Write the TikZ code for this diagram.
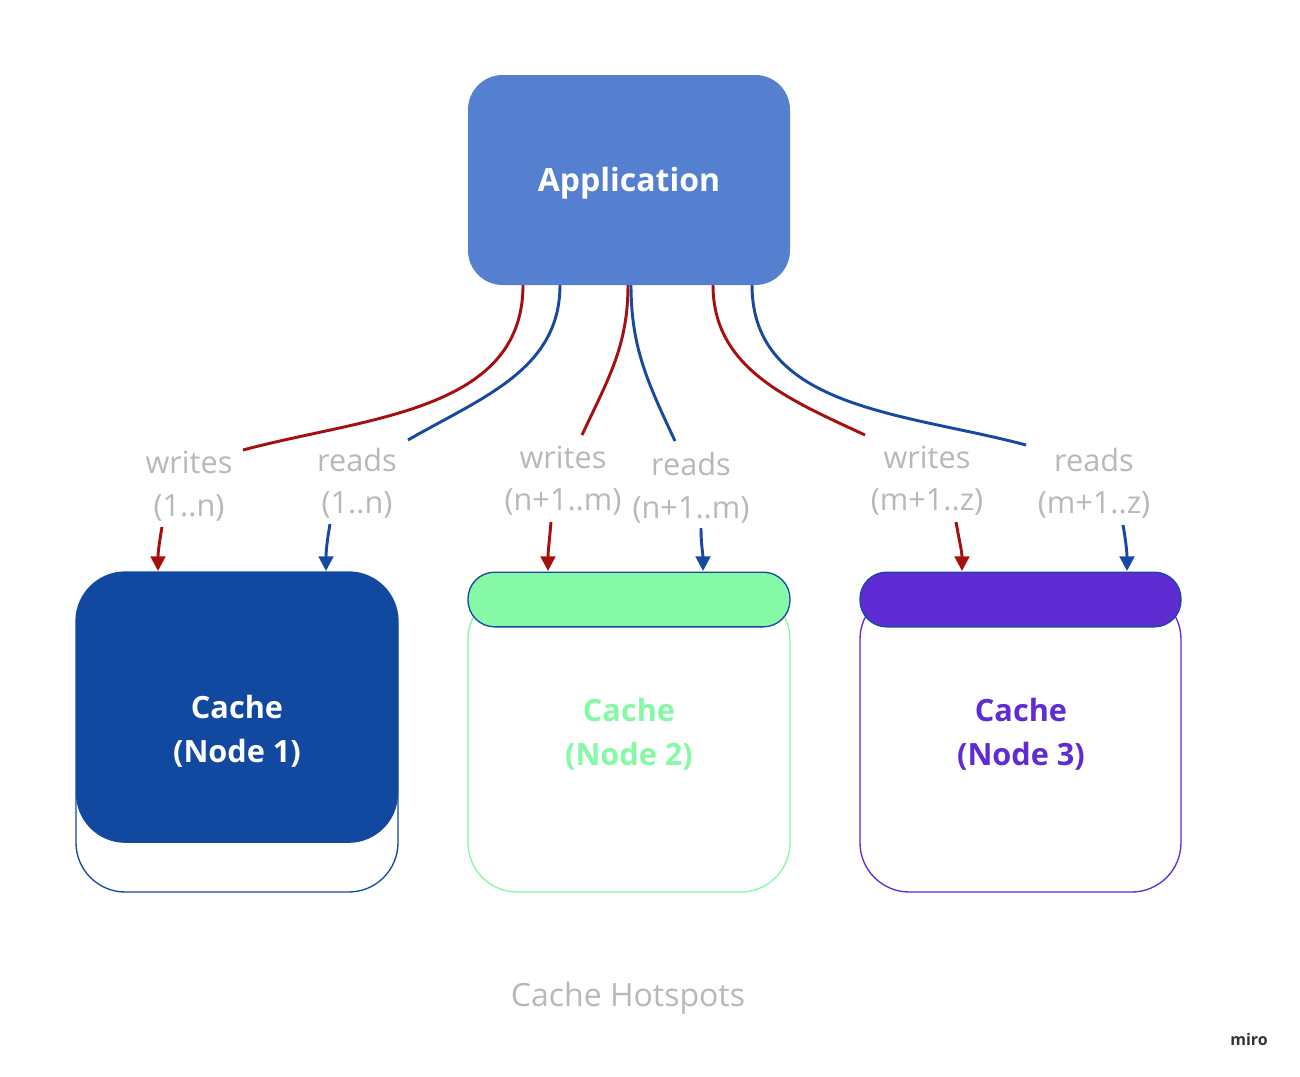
\documentclass[tikz,border=0pt]{standalone}
\usepackage{fontspec}
\setmainfont{Open Sans}
\usetikzlibrary{arrows.meta}
\definecolor{app}{HTML}{557FCF}
\definecolor{dblue}{HTML}{1149A0}
\definecolor{wred}{HTML}{A50F0F}
\definecolor{rblue}{HTML}{1749A0}
\definecolor{grn}{HTML}{86F9A6}
\definecolor{purp}{HTML}{5F2BD3}
\definecolor{lbl}{HTML}{B8B8B8}
\begin{document}
\begin{tikzpicture}[x=0.75pt,y=-0.75pt,
  lab/.style={text=lbl,font=\fontsize{23}{27}\selectfont,inner sep=0pt},
  ctext/.style={font=\bfseries\fontsize{23}{33}\selectfont,align=center},
  wr/.style={wred,line width=2.2pt},
  rd/.style={rblue,line width=2.2pt},
  arr/.style={-{Triangle[length=11pt,width=11pt]}}]
\useasboundingbox (0,0) rectangle (1300,1076);
% application
\node[fill=app,rounded corners=26pt,minimum width=241.5pt,minimum height=157.5pt] (app) at (629,180) {};
\node[text=white,font=\bfseries\fontsize{24}{28}\selectfont] (apptext) at (629,183) {Application};
% cache 1
\draw[dblue,line width=1pt,fill=white,rounded corners=37pt] (76,572) rectangle (398,892);
\node[fill=dblue,rounded corners=37pt,minimum width=241.5pt,minimum height=203pt] (c1box) at (237,707.5) {};
\node[text=white,ctext] (c1) at (237,731) {Cache\\(Node 1)};
% cache 2
\draw[grn,line width=1pt,fill=white,rounded corners=37pt] (468,590) rectangle (790,892);
\node[fill=grn,draw=rblue,line width=1pt,rounded corners=20pt,minimum width=241.5pt,minimum height=41pt] (b2) at (629,599.5) {};
\node[text=grn,ctext] (c2) at (629,734) {Cache\\(Node 2)};
% cache 3
\draw[purp,line width=1pt,fill=white,rounded corners=37pt] (860,590) rectangle (1181,892);
\node[fill=purp,draw=rblue,line width=1pt,rounded corners=20pt,minimum width=240.75pt,minimum height=41pt] (b3) at (1020.5,599.5) {};
\node[text=purp,ctext] (c3) at (1021,734) {Cache\\(Node 3)};
% labels
\node[lab] (w1) at (189,462) {writes};
\node[lab] (w1b) at (189,508) {(1..n)};
\node[lab] (r1) at (357,460) {reads};
\node[lab] (r1b) at (357,505) {(1..n)};
\node[lab] (w2) at (563,457) {writes};
\node[lab] (w2b) at (563,502) {(n+1..m)};
\node[lab] (r2) at (691,464) {reads};
\node[lab] (r2b) at (691,510) {(n+1..m)};
\node[lab] (w3) at (927,457) {writes};
\node[lab] (w3b) at (927,502) {(m+1..z)};
\node[lab] (r3) at (1094,460) {reads};
\node[lab] (r3b) at (1094,505) {(m+1..z)};
% anchor coordinates
\coordinate (a1) at (523,285); \coordinate (a2) at (560,285);
\coordinate (a3) at (628,285); \coordinate (a4) at (631,285);
\coordinate (a5) at (713,285); \coordinate (a6) at (752,285);
\coordinate (e1) at (243,450); \coordinate (e2) at (408,440);
\coordinate (e3) at (582,435); \coordinate (e4) at (675,441);
\coordinate (e5) at (865,435); \coordinate (e6) at (1026,445);
\draw[wr] (a1) to[out=-90,in=15] (e1);
\draw[rd] (a2) to[out=-90,in=30] (e2);
\draw[wr] (a3) to[out=-90,in=65] (e3);
\draw[rd] (a4) to[out=-90,in=115] (e4);
\draw[wr] (a5) to[out=-90,in=155] (e5);
\draw[rd] (a6) to[out=-90,in=165] (e6);
% arrows
\coordinate (s1) at (162,527); \coordinate (t1) at (158,571);
\coordinate (s2) at (330,524); \coordinate (t2) at (326,571);
\coordinate (s3) at (551,522); \coordinate (t3) at (548,571);
\coordinate (s4) at (701,528); \coordinate (t4) at (703,571);
\coordinate (s5) at (956,522); \coordinate (t5) at (962,571);
\coordinate (s6) at (1123,525); \coordinate (t6) at (1127,571);
\draw[wr,arr] (s1) to[out=-100,in=90] (t1);
\draw[rd,arr] (s2) to[out=-100,in=90] (t2);
\draw[wr,arr] (s3) to[out=-95,in=90] (t3);
\draw[rd,arr] (s4) to[out=-90,in=90] (t4);
\draw[wr,arr] (s5) to[out=-80,in=90] (t5);
\draw[rd,arr] (s6) to[out=-80,in=90] (t6);
% title
\node[lab,font=\fontsize{24}{28}\selectfont] (title) at (628,998) {Cache Hotspots};
\node[font=\bfseries\fontsize{12}{14}\selectfont,text=black!80] (miro) at (1249,1039) {miro};
\end{tikzpicture}
\end{document}
